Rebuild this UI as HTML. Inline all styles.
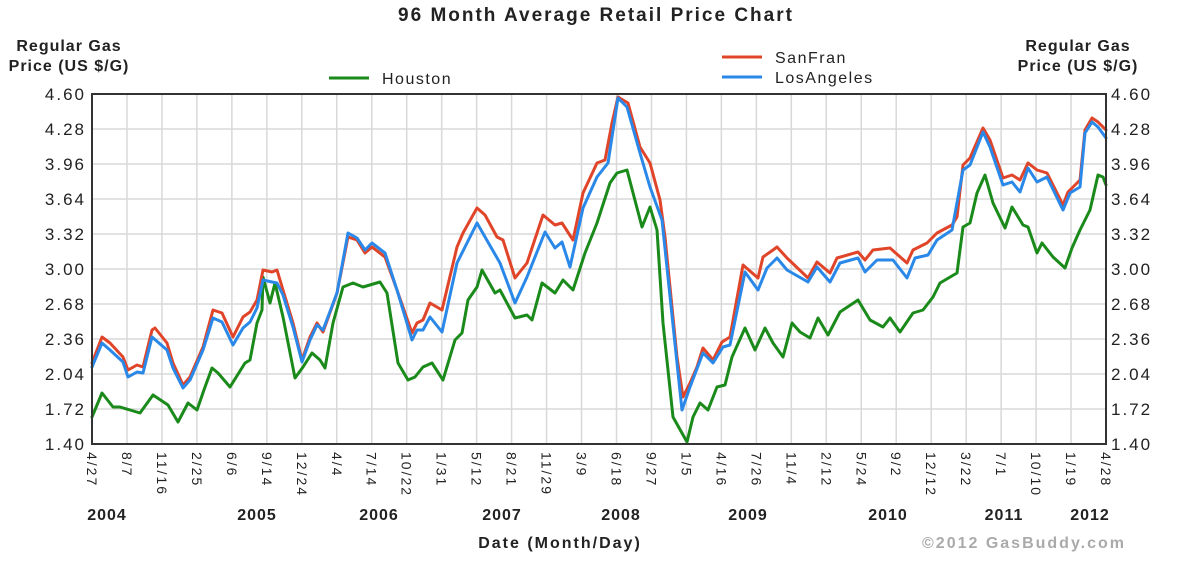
<!DOCTYPE html>
<html><head><meta charset="utf-8"><style>
html,body{margin:0;padding:0;background:#fff;}
svg{display:block;font-family:"Liberation Sans",Arial,sans-serif;}
</style></head><body>
<svg width="1179" height="564" viewBox="0 0 1179 564" xmlns="http://www.w3.org/2000/svg">
<rect width="1179" height="564" fill="#fff"/>
<text x="596" y="21" font-size="19" letter-spacing="2" font-weight="bold" text-anchor="middle" fill="#222">96 Month Average Retail Price Chart</text>
<g font-size="16" font-weight="bold" text-anchor="middle" fill="#222" letter-spacing="1">
<text x="69" y="51">Regular Gas</text>
<text x="69" y="71">Price (US $/G)</text>
<text x="1078" y="51">Regular Gas</text>
<text x="1078" y="71">Price (US $/G)</text>
</g>
<line x1="329" y1="78" x2="369" y2="78" stroke="#1a8a1a" stroke-width="3"/>
<g font-size="16" fill="#222" letter-spacing="1.5">
<text x="382" y="84">Houston</text>
<text x="775" y="63">SanFran</text>
<text x="775" y="83">LosAngeles</text>
</g>
<line x1="722" y1="57" x2="762" y2="57" stroke="#e0452a" stroke-width="3"/>
<line x1="722" y1="77" x2="762" y2="77" stroke="#2a88e8" stroke-width="3"/>
<g stroke="#d8d8d8" stroke-width="1.5" id="grid"></g>
<g font-size="17" fill="#222" id="ylab" letter-spacing="2"></g>
<g font-size="14" fill="#222" id="xlab" letter-spacing="2"></g>
<g id="series" fill="none" stroke-width="3" stroke-linejoin="round" stroke-linecap="round">
<polyline stroke="#1a8a1a" points="92,417 102,393 113,407 120,407 130,410 140,413 153,395 168,405 178,422 188,403 197,410 205,387 212,368 218,373 230,387 245,363 250,360 257,323 262,310 263,277 270,303 275,283 283,317 295,378 303,367 312,353 320,360 325,368 333,323 343,287 353,283 363,287 380,282 387,293 398,363 408,380 415,377 423,367 432,363 443,380 455,340 462,333 468,300 477,287 482,270 495,293 500,290 515,318 527,315 532,320 542,283 555,293 563,280 573,290 585,253 597,223 610,183 617,173 627,170 642,227 650,207 657,230 663,323 673,417 687,442 693,417 700,403 708,410 717,387 725,385 732,357 745,328 755,350 765,328 773,343 783,357 792,323 800,332 810,338 818,318 828,335 840,312 858,300 870,320 883,327 890,318 900,332 913,313 923,310 933,297 940,283 957,273 963,227 970,223 977,193 985,175 993,203 1005,228 1012,207 1023,225 1028,227 1037,253 1042,243 1053,257 1065,268 1072,248 1080,230 1090,210 1098,175 1103,177 1106,185"/>
<polyline stroke="#e0452a" points="92,363 102,337 110,343 123,357 128,370 137,365 143,367 152,330 155,328 167,343 173,363 183,385 190,377 203,347 213,310 222,313 233,337 243,317 250,312 257,300 263,270 272,272 277,270 283,290 293,323 302,360 310,337 317,323 323,332 337,293 348,237 357,240 365,253 372,247 385,257 397,290 412,333 417,323 423,320 430,303 442,310 457,247 463,233 477,208 485,215 497,237 503,240 515,278 527,263 543,215 555,225 562,223 573,240 583,193 597,163 605,160 612,123 618,97 628,103 640,147 650,163 660,200 665,237 677,357 683,397 690,383 697,367 703,348 713,360 722,342 730,337 743,265 758,278 763,257 773,250 777,247 787,258 808,278 817,262 830,273 837,258 858,252 865,260 873,250 890,248 907,263 913,250 927,243 937,233 952,225 957,217 963,165 970,158 983,128 990,140 1003,178 1012,175 1020,180 1028,163 1037,170 1047,173 1063,205 1068,192 1080,180 1085,130 1092,118 1098,122 1106,130"/>
<polyline stroke="#2a88e8" points="92,367 102,343 110,350 123,362 128,377 137,372 143,373 152,337 167,350 173,368 183,388 190,380 203,350 213,318 222,322 233,345 243,328 250,322 257,308 263,280 272,282 277,283 283,295 293,327 302,362 310,340 317,325 323,330 337,293 348,233 357,238 365,250 372,243 385,253 397,290 412,340 417,330 423,330 430,317 442,332 457,263 477,223 500,263 515,303 527,277 545,232 555,248 562,242 570,267 583,208 597,177 608,163 618,98 627,107 640,153 650,187 662,220 677,363 682,410 690,387 703,353 713,363 723,347 730,345 745,272 758,290 767,268 777,258 787,270 808,282 817,267 830,282 840,263 858,258 865,272 877,260 893,260 907,278 915,258 928,255 937,240 952,230 963,170 970,165 983,132 990,147 1003,185 1012,182 1020,192 1028,168 1037,182 1047,177 1063,210 1070,193 1080,187 1085,133 1092,122 1098,127 1106,138"/>
</g>
<rect x="92" y="94" width="1014" height="350" fill="none" stroke="#333" stroke-width="2"/>
<g font-size="16" font-weight="bold" fill="#222" text-anchor="middle" letter-spacing="1">
<text x="107" y="520">2004</text><text x="257" y="520">2005</text><text x="379" y="520">2006</text><text x="502" y="520">2007</text><text x="621" y="520">2008</text><text x="748" y="520">2009</text><text x="888" y="520">2010</text><text x="1004" y="520">2011</text><text x="1090" y="520">2012</text>
</g>
<text x="560" y="548" font-size="16" font-weight="bold" fill="#222" text-anchor="middle" letter-spacing="2">Date (Month/Day)</text>
<text x="1024" y="548" font-size="16" font-weight="bold" fill="#aaa" text-anchor="middle" letter-spacing="2">©2012 GasBuddy.com</text>
<script>
(function(){
var ns="http://www.w3.org/2000/svg";
var g=document.getElementById("grid"),yl=document.getElementById("ylab"),xl=document.getElementById("xlab");
function el(p,n,a,t){var e=document.createElementNS(ns,n);for(var k in a)e.setAttribute(k,a[k]);if(t)e.textContent=t;p.appendChild(e);return e;}
var vals=["4.60","4.28","3.96","3.64","3.32","3.00","2.68","2.36","2.04","1.72","1.40"];
for(var i=0;i<11;i++){var y=94+i*35;
 if(i>0&&i<10)el(g,"line",{x1:92,x2:1106,y1:y,y2:y});
 el(yl,"text",{x:86,y:y+6,"text-anchor":"end"},vals[i]);
 el(yl,"text",{x:1111,y:y+6},vals[i]);}
var lab=["4/27","8/7","11/16","2/25","6/6","9/14","12/24","4/4","7/14","10/22","1/31","5/12","8/21","11/29","3/9","6/18","9/27","1/5","4/16","7/26","11/4","2/12","5/24","9/2","12/12","3/22","7/1","10/10","1/19","4/28"];
for(var j=0;j<30;j++){var x=92+j*34.966;
 if(j>0&&j<29)el(g,"line",{x1:x,x2:x,y1:94,y2:444});
 el(xl,"text",{transform:"translate("+(x-5)+",452) rotate(90)"},lab[j]);}
})();
</script>
</svg>
</body></html>
